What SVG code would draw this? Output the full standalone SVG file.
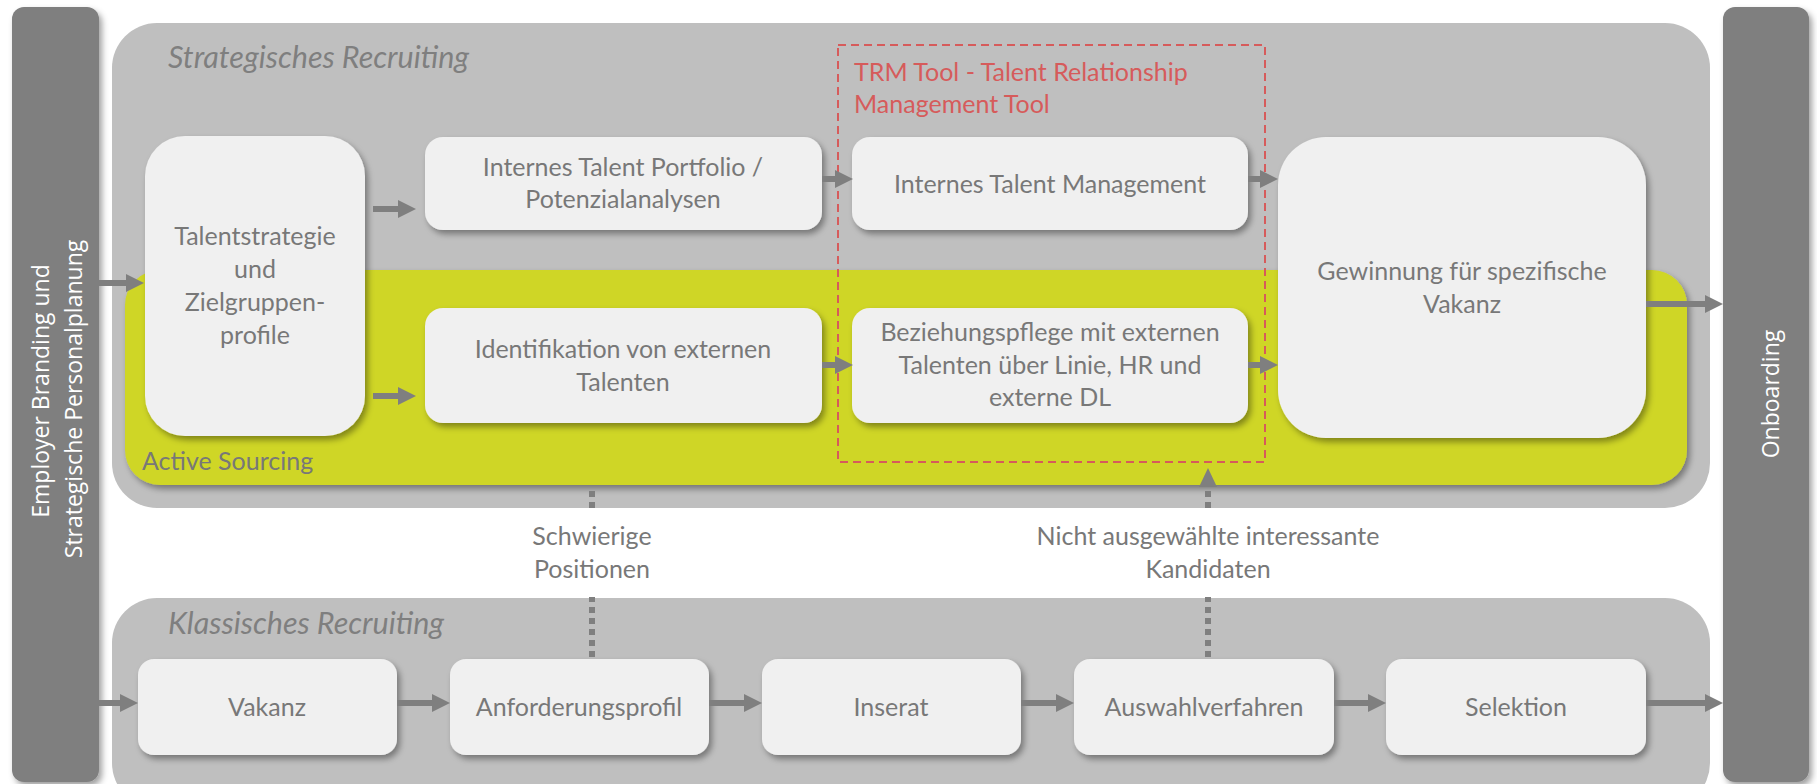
<svg xmlns="http://www.w3.org/2000/svg" width="1817" height="784" viewBox="0 0 1817 784">
<defs>
<style>
.t{font-family:Lato,"Liberation Sans",sans-serif;font-size:25px;fill:#787878;text-anchor:middle}
.ti{font-family:Lato,"Liberation Sans",sans-serif;font-size:30.5px;font-style:italic;fill:#7f7f7f}
.tw{font-family:"Open Sans","Liberation Sans",sans-serif;font-size:23px;fill:#ffffff;text-anchor:middle}
.tr{font-family:Lato,"Liberation Sans",sans-serif;font-size:25px;fill:#d65b5b}
.box{fill:#f0f0f0;filter:url(#sh)}
.bar{fill:#7f7f7f;filter:url(#sh)}
.pan{fill:#bfbfbf}
.ar{stroke:#7f7f7f;stroke-width:6;fill:none;marker-end:url(#ah)}
.dot{stroke:#7f7f7f;stroke-width:6;fill:none;stroke-dasharray:6 5}
</style>
<filter id="sh" x="-10%" y="-10%" width="125%" height="130%">
<feDropShadow dx="3" dy="4" stdDeviation="3" flood-color="#000" flood-opacity="0.38"/>
</filter>
<marker id="ah" markerUnits="userSpaceOnUse" markerWidth="18" markerHeight="18" refX="1" refY="9" orient="auto">
<path d="M0,0 L18,9 L0,18 z" fill="#7f7f7f"/>
</marker>
</defs>

<g id="panel-strategisch">
<rect class="pan" x="112" y="23" width="1598" height="485" rx="45"/>
<text class="ti" x="168" y="68">Strategisches Recruiting</text>
</g>
<g id="panel-klassisch">
<rect class="pan" x="112" y="598" width="1598" height="210" rx="45"/>
<text class="ti" x="168" y="634">Klassisches Recruiting</text>
</g>
<g id="active-sourcing">
<rect x="125" y="270" width="1562" height="215" rx="35" fill="#cfd626" filter="url(#sh)"/>
<text class="t" x="142" y="470" style="text-anchor:start">Active Sourcing</text>
</g>

<g id="employer-branding">
<rect class="bar" x="12" y="7" width="87" height="775" rx="12"/>
<text class="tw" transform="translate(49,391) rotate(-90)">Employer Branding und</text>
<text class="tw" transform="translate(82,399) rotate(-90)">Strategische Personalplanung</text>
</g>
<g id="onboarding">
<rect class="bar" x="1723" y="7" width="86" height="775" rx="12"/>
<text class="tw" transform="translate(1779,394) rotate(-90)">Onboarding</text>
</g>

<g id="talentstrategie">
<rect class="box" x="145" y="136" width="220" height="300" rx="40"/>
<text class="t" x="255" y="245">Talentstrategie</text>
<text class="t" x="255" y="278">und</text>
<text class="t" x="255" y="311">Zielgruppen-</text>
<text class="t" x="255" y="344">profile</text>
</g>
<g id="internes-talent-portfolio">
<rect class="box" x="425" y="137" width="397" height="93" rx="18"/>
<text class="t" x="623" y="176">Internes Talent Portfolio /</text>
<text class="t" x="623" y="208">Potenzialanalysen</text>
</g>
<g id="internes-talent-management">
<rect class="box" x="852" y="137" width="396" height="93" rx="18"/>
<text class="t" x="1050" y="193">Internes Talent Management</text>
</g>
<g id="identifikation">
<rect class="box" x="425" y="308" width="397" height="115" rx="18"/>
<text class="t" x="623" y="358">Identifikation von externen</text>
<text class="t" x="623" y="391">Talenten</text>
</g>
<g id="beziehungspflege">
<rect class="box" x="852" y="308" width="396" height="115" rx="18"/>
<text class="t" x="1050" y="341">Beziehungspflege mit externen</text>
<text class="t" x="1050" y="374">Talenten über Linie, HR und</text>
<text class="t" x="1050" y="406">externe DL</text>
</g>
<g id="gewinnung">
<rect class="box" x="1278" y="137" width="368" height="301" rx="48"/>
<text class="t" x="1462" y="280">Gewinnung für spezifische</text>
<text class="t" x="1462" y="313">Vakanz</text>
</g>

<g id="trm-tool">
<rect x="838" y="45" width="427" height="417" fill="none" stroke="#d65b5b" stroke-width="2" stroke-dasharray="8 5"/>
<text class="tr" x="854" y="81">TRM Tool - Talent Relationship</text>
<text class="tr" x="854" y="113">Management Tool</text>
</g>

<g id="vakanz">
<rect class="box" x="138" y="659" width="259" height="96" rx="16"/>
<text class="t" x="267" y="716">Vakanz</text>
</g>
<g id="anforderungsprofil">
<rect class="box" x="450" y="659" width="259" height="96" rx="16"/>
<text class="t" x="579" y="716">Anforderungsprofil</text>
</g>
<g id="inserat">
<rect class="box" x="762" y="659" width="259" height="96" rx="16"/>
<text class="t" x="891" y="716">Inserat</text>
</g>
<g id="auswahlverfahren">
<rect class="box" x="1074" y="659" width="260" height="96" rx="16"/>
<text class="t" x="1204" y="716">Auswahlverfahren</text>
</g>
<g id="selektion">
<rect class="box" x="1386" y="659" width="260" height="96" rx="16"/>
<text class="t" x="1516" y="716">Selektion</text>
</g>

<g id="connectors">
<line class="ar" x1="99" y1="283" x2="127" y2="283"/>
<line class="ar" x1="373" y1="209" x2="399" y2="209"/>
<line class="ar" x1="373" y1="396" x2="399" y2="396"/>
<line class="ar" x1="822" y1="179" x2="836" y2="179"/>
<line class="ar" x1="822" y1="365" x2="836" y2="365"/>
<line class="ar" x1="1248" y1="179" x2="1261" y2="179"/>
<line class="ar" x1="1248" y1="365" x2="1261" y2="365"/>
<line class="ar" x1="1646" y1="304" x2="1706" y2="304"/>
<line class="ar" x1="99" y1="703" x2="121" y2="703"/>
<line class="ar" x1="397" y1="703" x2="433" y2="703"/>
<line class="ar" x1="709" y1="703" x2="745" y2="703"/>
<line class="ar" x1="1021" y1="703" x2="1057" y2="703"/>
<line class="ar" x1="1334" y1="703" x2="1369" y2="703"/>
<line class="ar" x1="1646" y1="703" x2="1706" y2="703"/>
<line class="dot" x1="592" y1="657" x2="592" y2="597"/>
<line class="dot" x1="592" y1="508" x2="592" y2="486"/>
<line class="dot" x1="1208" y1="657" x2="1208" y2="597"/>
<line class="dot" x1="1208" y1="508" x2="1208" y2="487"/>
<path d="M1199,487 L1208,468 L1217,487 z" fill="#7f7f7f"/>
<text class="t" x="592" y="545">Schwierige</text>
<text class="t" x="592" y="578">Positionen</text>
<text class="t" x="1208" y="545">Nicht ausgewählte interessante</text>
<text class="t" x="1208" y="578">Kandidaten</text>
</g>
</svg>
